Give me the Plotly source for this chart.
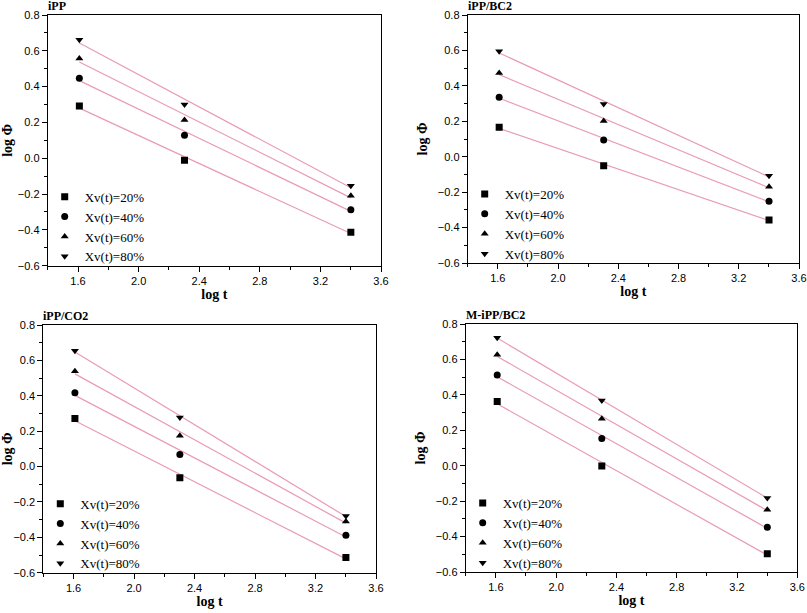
import numpy as np
import plotly.graph_objects as go

# ---- data ----
log_t = [1.609, 2.303, 3.401]
series_labels = ["Xv(t)=20%", "Xv(t)=40%", "Xv(t)=60%", "Xv(t)=80%"]
panel_titles = ["iPP", "iPP/BC2", "iPP/CO2", "M-iPP/BC2"]

ipp_20 = [0.292, -0.011, -0.413]
ipp_40 = [0.447, 0.129, -0.288]
ipp_60 = [0.557, 0.213, -0.209]
ipp_80 = [0.662, 0.300, -0.153]

bc2_20 = [0.166, -0.051, -0.357]
bc2_40 = [0.336, 0.094, -0.251]
bc2_60 = [0.472, 0.202, -0.170]
bc2_80 = [0.596, 0.298, -0.108]

co2_20 = [0.271, -0.064, -0.514]
co2_40 = [0.417, 0.068, -0.389]
co2_60 = [0.538, 0.174, -0.311]
co2_80 = [0.654, 0.277, -0.279]

mbc2_20 = [0.362, -0.002, -0.497]
mbc2_40 = [0.512, 0.154, -0.347]
mbc2_60 = [0.626, 0.265, -0.248]
mbc2_80 = [0.722, 0.368, -0.182]

panels = [
    [ipp_20, ipp_40, ipp_60, ipp_80],
    [bc2_20, bc2_40, bc2_60, bc2_80],
    [co2_20, co2_40, co2_60, co2_80],
    [mbc2_20, mbc2_40, mbc2_60, mbc2_80],
]

# ---- layout geometry (pixels) ----
W, H = 807, 613
boxes = [  # left, right, top, bottom
    (47.7, 381.0, 15.0, 265.7),
    (467.7, 799.0, 15.0, 263.0),
    (43.3, 376.0, 325.0, 572.7),
    (465.7, 797.3, 324.0, 572.0),
]
symbols = ["square", "circle", "triangle-up", "triangle-down"]
line_color = "#E99BB8"
serif = "Liberation Serif, Times New Roman, serif"
sans = "Liberation Sans, Arial, sans-serif"

fig = go.Figure()
layout = dict(width=W, height=H, margin=dict(l=0, r=0, t=0, b=0, autoexpand=False),
              paper_bgcolor="white", plot_bgcolor="white", annotations=[])

for p, (vals, box) in enumerate(zip(panels, boxes)):
    idx = "" if p == 0 else str(p + 1)
    xa, ya = "x" + idx, "y" + idx
    legname = "legend" if p == 0 else "legend" + str(p + 1)
    l, r, t, b = box
    xd = [l / W, r / W]
    yd = [1 - b / H, 1 - t / H]
    # fit lines
    for s, yv in enumerate(vals):
        k, c = np.polyfit(log_t, yv, 1)
        xs = [log_t[0], log_t[-1]]
        fig.add_trace(go.Scatter(x=xs, y=[k * xx + c for xx in xs], mode="lines",
                                 line=dict(color=line_color, width=1.2),
                                 xaxis=xa, yaxis=ya, showlegend=False, hoverinfo="skip"))
    for s, yv in enumerate(vals):
        fig.add_trace(go.Scatter(x=log_t, y=yv, mode="markers", name=series_labels[s],
                                 marker=dict(symbol=symbols[s], color="black", size=7),
                                 xaxis=xa, yaxis=ya, legend=legname))
    axis_common = dict(showline=True, linecolor="black", linewidth=1, mirror=True,
                       ticks="outside", ticklen=5, tickcolor="black", showgrid=False,
                       zeroline=False, automargin=False,
                       tickfont=dict(family=sans, size=11, color="black"))
    layout["xaxis" + idx] = dict(axis_common, domain=xd, anchor=ya, range=[1.4, 3.6],
                                 tick0=1.6, dtick=0.4, tickformat=".1f",
                                 minor=dict(ticks="outside", ticklen=3, dtick=0.2, tick0=1.4,
                                            tickcolor="black", showgrid=False),
                                 title=dict(text="<b>log t</b>", font=dict(family=serif, size=14, color="black"),
                                            standoff=2))
    layout["yaxis" + idx] = dict(axis_common, domain=yd, anchor=xa, range=[-0.6, 0.8],
                                 tick0=0, dtick=0.2, tickformat=".1f",
                                 minor=dict(ticks="outside", ticklen=3, dtick=0.1, tick0=0,
                                            tickcolor="black", showgrid=False),
                                 title=dict(text="<b>log Φ</b>", font=dict(family=serif, size=14, color="black"),
                                            standoff=6))
    layout[legname] = dict(x=xd[0] - 3 / W, y=yd[0] - 6 / H, xanchor="left", yanchor="bottom",
                           bgcolor="rgba(0,0,0,0)", font=dict(family=serif, size=13, color="black"),
                           tracegroupgap=0, itemwidth=30)
    layout["annotations"].append(dict(text="<b>" + panel_titles[p] + "</b>", x=xd[0], y=yd[1],
                                      xref="paper", yref="paper", xanchor="left", yanchor="bottom",
                                      showarrow=False, yshift=0, xshift=-2,
                                      font=dict(family=serif, size=12, color="black")))

fig.update_layout(**layout)
fig.write_html("out.html", config={"displayModeBar": False},
               post_script="document.body.style.margin='0';")
